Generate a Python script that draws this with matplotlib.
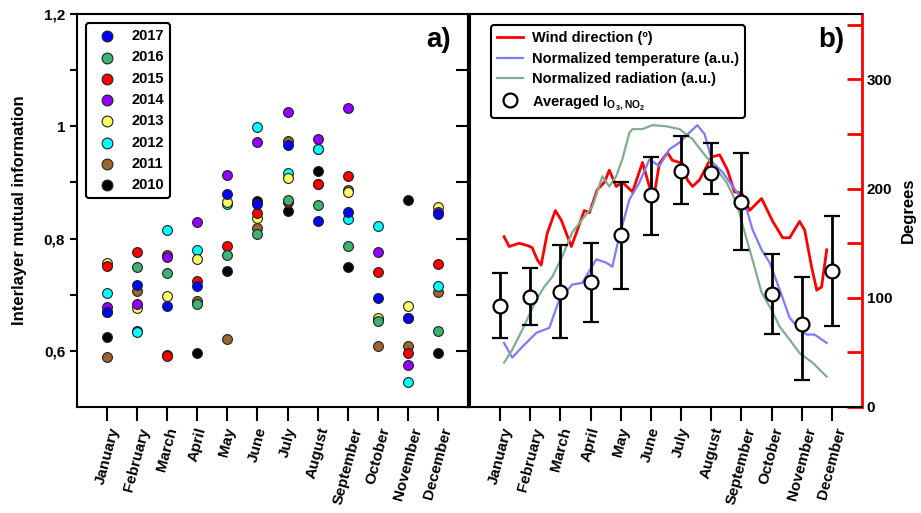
import numpy as np
import matplotlib
matplotlib.use('Agg')
import matplotlib.pyplot as plt

plt.rcParams['font.family'] = ['Liberation Sans', 'DejaVu Sans']
plt.rcParams['font.weight'] = 'bold'
plt.rcParams['mathtext.fontset'] = 'custom'
plt.rcParams['mathtext.rm'] = 'Liberation Sans'
plt.rcParams['mathtext.bf'] = 'Liberation Sans:bold'

meses = ['January', 'February', 'March', 'April', 'May', 'June', 'July',
         'August', 'September', 'October', 'November', 'December']
x_mes = np.arange(1, 13)

# informacion mutua por año (panel a)
anios = ['2010', '2011', '2012', '2013', '2014', '2015', '2016', '2017']
im_2010 = [0.624, 0.636, 0.592, 0.596, 0.743, 0.867, 0.849, 0.921, 0.749, 0.656, 0.868, 0.597]
im_2011 = [0.589, 0.707, 0.770, 0.689, 0.621, 0.818, 0.974, 0.959, 0.886, 0.608, 0.608, 0.705]
im_2012 = [0.703, 0.634, 0.816, 0.779, 0.862, 0.999, 0.916, 0.959, 0.834, 0.823, 0.545, 0.715]
im_2013 = [0.757, 0.676, 0.698, 0.764, 0.866, 0.837, 0.908, 0.898, 0.883, 0.658, 0.680, 0.857]
im_2014 = [0.679, 0.684, 0.768, 0.829, 0.914, 0.972, 1.026, 0.978, 1.032, 0.776, 0.575, 0.848]
im_2015 = [0.751, 0.776, 0.590, 0.724, 0.787, 0.846, 0.866, 0.898, 0.911, 0.741, 0.596, 0.754]
im_2016 = [0.670, 0.749, 0.738, 0.683, 0.771, 0.808, 0.868, 0.859, 0.787, 0.654, 0.658, 0.636]
im_2017 = [0.670, 0.717, 0.680, 0.716, 0.880, 0.861, 0.966, 0.832, 0.847, 0.695, 0.658, 0.843]
colores = ['black', '#9C6430', '#00FFFF', '#FFFF66', '#9400FF', '#FF0000', '#3CB371', '#0000FF']

# panel b: promedio con barras de error
promedio = [0.680, 0.696, 0.705, 0.722, 0.806, 0.877, 0.921, 0.916, 0.866, 0.702, 0.648, 0.743]
err_sup = [0.738, 0.748, 0.789, 0.793, 0.900, 0.946, 0.982, 0.970, 0.952, 0.773, 0.732, 0.841]
err_inf = [0.623, 0.646, 0.623, 0.651, 0.711, 0.806, 0.861, 0.880, 0.780, 0.630, 0.548, 0.645]

# direccion del viento (grados)
viento_x = [1.13, 1.30, 1.63, 1.90, 2.06, 2.23, 2.36, 2.56, 2.83, 3.03, 3.36, 3.52, 3.79, 3.96,
            4.22, 4.46, 4.62, 4.85, 5.05, 5.39, 5.72, 5.95, 6.12, 6.28, 6.55, 6.71, 6.95, 7.05,
            7.21, 7.38, 7.61, 8.01, 8.28, 8.54, 8.77, 9.01, 9.27, 9.67, 10.04, 10.37, 10.60,
            10.93, 11.10, 11.33, 11.50, 11.66, 11.83]
viento = [156, 147, 150, 148, 146, 135, 130, 159, 180, 171, 147, 159, 180, 178,
          199, 206, 217, 202, 206, 197, 224, 202, 196, 223, 233, 226, 224, 223,
          208, 202, 208, 229, 231, 217, 197, 196, 180, 191, 170, 155, 155,
          170, 162, 128, 107, 110, 144]

# temperatura normalizada
temp_x = [1.13, 1.40, 1.73, 2.20, 2.63, 2.96, 3.39, 3.72, 4.19, 4.52, 4.72, 4.95, 5.29, 5.62,
          5.95, 6.28, 6.61, 6.95, 7.28, 7.54, 7.78, 8.04, 8.38, 8.71, 9.11, 9.37, 9.67, 9.94,
          10.27, 10.60, 10.93, 11.17, 11.43, 11.83]
temp = [0.614, 0.588, 0.607, 0.632, 0.641, 0.691, 0.718, 0.721, 0.763, 0.757, 0.750, 0.804,
        0.870, 0.900, 0.941, 0.929, 0.959, 0.971, 0.989, 1.002, 0.986, 0.936, 0.918, 0.893,
        0.864, 0.816, 0.780, 0.757, 0.709, 0.659, 0.638, 0.629, 0.629, 0.614]

# radiacion normalizada
rad_x = [1.13, 1.40, 1.73, 2.20, 2.46, 2.73, 3.06, 3.39, 3.72, 4.06, 4.39, 4.62, 4.85, 5.05,
         5.29, 5.39, 5.72, 6.05, 6.51, 6.95, 7.38, 7.71, 8.18, 8.51, 8.84, 9.11, 9.37, 9.67,
         10.00, 10.27, 10.60, 10.93, 11.36, 11.83]
rad = [0.579, 0.602, 0.637, 0.691, 0.714, 0.732, 0.768, 0.811, 0.834, 0.857, 0.911, 0.893,
       0.911, 0.941, 0.989, 0.995, 0.995, 1.002, 1.000, 0.995, 0.977, 0.954, 0.923, 0.900,
       0.864, 0.811, 0.762, 0.704, 0.673, 0.643, 0.620, 0.596, 0.579, 0.554]

fig = plt.figure(figsize=(9.21, 5.13), dpi=100)
ax1 = fig.add_axes([77/921, 1-407/513, 391/921, 393/513])
ax2 = fig.add_axes([470/921, 1-407/513, 392/921, 393/513])

# ---- panel a ----
series = [im_2010, im_2011, im_2012, im_2013, im_2014, im_2015, im_2016, im_2017]
for vals, col, lab in zip(series, colores, anios):
    ax1.scatter(x_mes, vals, s=50, c=col, edgecolors='#222222', linewidths=0.8,
                label=lab, zorder=3)

ax1.set_xlim(0, 13)
ax1.set_ylim(0.5, 1.2)
ax1.set_yticks([0.6, 0.8, 1.0, 1.2])
ax1.set_yticklabels(['0,6', '0,8', '1', '1,2'])
ax1.set_yticks([0.7, 0.9, 1.1], minor=True)
ax1.set_ylabel('Interlayer mutual information', fontsize=12, fontweight='bold', labelpad=12)
ax1.tick_params(axis='y', which='both', direction='out', length=5, width=1.5, labelsize=11)
sec = ax1.secondary_yaxis('right')
sec.set_yticks([0.6, 0.7, 0.8, 0.9, 1.0, 1.1])
sec.tick_params(direction='in', length=9, width=1.5, labelright=False)
sec.spines['right'].set_linewidth(1.5)

handles, labels = ax1.get_legend_handles_labels()
leg1 = ax1.legend(handles[::-1], labels[::-1], loc='upper left', fontsize=10.5,
                  frameon=True, fancybox=True, edgecolor='black', framealpha=1,
                  labelspacing=0.5, handletextpad=0.7, borderpad=0.4, markerscale=1.1,
                  bbox_to_anchor=(0.005, 0.995))
leg1.get_frame().set_linewidth(1.5)
ax1.text(0.955, 0.935, 'a)', transform=ax1.transAxes, fontsize=20,
         fontweight='bold', ha='right', va='center')

# ---- panel b ----
eb_abajo = np.array(promedio) - np.array(err_inf)
eb_arriba = np.array(err_sup) - np.array(promedio)
ax2.set_xlim(0, 13)
ax2.set_ylim(0.5, 1.2)
l_temp, = ax2.plot(temp_x, temp, color='#7B7BFF', lw=1.6, zorder=2)
l_rad, = ax2.plot(rad_x, rad, color='#7FAE90', lw=1.6, zorder=2)
eb = ax2.errorbar(x_mes, promedio, yerr=[eb_abajo, eb_arriba], fmt='o', color='black',
                  mfc='white', mec='black', mew=1.6, ms=10, elinewidth=2, capsize=6,
                  capthick=2, zorder=4)
ax2.tick_params(axis='y', left=False, labelleft=False)

ax3 = ax2.twinx()
l_viento, = ax3.plot(viento_x, viento, color='red', lw=2, zorder=3)
ax3.set_ylim(0, 360)
ax3.set_yticks([0, 100, 200, 300])
ax3.set_yticks([50, 150, 250, 350], minor=True)
ax3.tick_params(axis='y', which='both', direction='in', length=11, width=2,
                colors='red', labelcolor='black', labelsize=11)
ax3.spines['right'].set_color('red')
ax3.spines['right'].set_linewidth(2)
for s in ['left', 'top', 'bottom']:
    ax3.spines[s].set_visible(False)
ax3.set_ylabel('Degrees', fontsize=12, fontweight='bold', labelpad=6)
ax2.set_zorder(ax3.get_zorder() + 1)
ax2.patch.set_visible(False)

leg2 = ax2.legend([l_viento, l_temp, l_rad, eb.lines[0]],
                  ['Wind direction (º)', 'Normalized temperature (a.u.)',
                   'Normalized radiation (a.u.)', r'Averaged I$_{\mathbf{O_3,NO_2}}$'],
                  loc='upper left', bbox_to_anchor=(0.035, 0.99), fontsize=10.5,
                  frameon=True, fancybox=True, edgecolor='black', framealpha=1,
                  labelspacing=0.45, handlelength=1.8, handletextpad=0.6, borderpad=0.4)
leg2.get_frame().set_linewidth(1.5)
ax2.text(0.955, 0.935, 'b)', transform=ax2.transAxes, fontsize=20,
         fontweight='bold', ha='right', va='center')

for ax in (ax1, ax2):
    ax.set_xticks(x_mes)
    ax.set_xticklabels(meses, rotation=75, ha='center', fontsize=11, fontweight='bold')
    ax.tick_params(axis='x', direction='out', length=10, width=1.5)
    for s in ['left', 'right', 'top', 'bottom']:
        ax.spines[s].set_linewidth(1.5)
ax2.spines['right'].set_visible(False)

fig.savefig('out.png', dpi=100)
